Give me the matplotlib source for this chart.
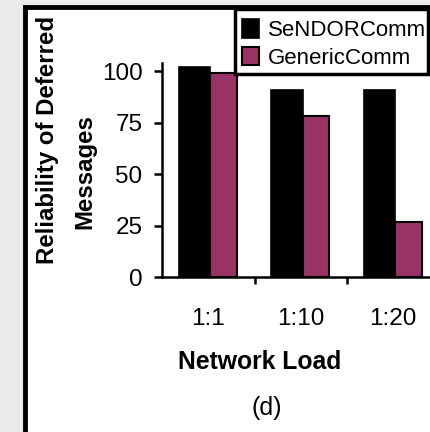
import matplotlib
matplotlib.use("Agg")
import matplotlib.pyplot as plt
from matplotlib.patches import Rectangle

categories = ["1:1", "1:10", "1:20"]
sendor = [102, 91, 91]
generic = [99, 78, 26.5]
series_names = ["SeNDORComm", "GenericComm"]
yticks = [0, 25, 50, 75, 100]

plt.rcParams['font.family'] = ['Liberation Sans', 'DejaVu Sans']

W, H = 430, 432
fig = plt.figure(figsize=(W / 100, H / 100), dpi=100)
fig.patch.set_facecolor('#ebebeb')

# white panel with black border (extends past right/bottom edges)
panel = Rectangle((25 / W, -0.1), 1.2, 1 - 7.5 / H + 0.1, transform=fig.transFigure,
                  facecolor='white', edgecolor='black', linewidth=3.5, zorder=-10)
fig.add_artist(panel)

ax_left = 162 / W
ax_bottom = 1 - 277 / H
ax_top = 1 - 63 / H
ax_width = (439.5 - 162) / W
ax = fig.add_axes([ax_left, ax_bottom, ax_width, ax_top - ax_bottom])
ax.set_facecolor('none')
ax.set_zorder(1)

x = list(range(len(categories)))
ax.bar([i - 0.32 for i in x], sendor, width=0.34, align='edge', color='black',
       edgecolor='black', linewidth=1.2, label=series_names[0], zorder=3)
ax.bar([i + 0.02 for i in x], generic, width=0.29, align='edge', color='#993366',
       edgecolor='black', linewidth=1.5, label=series_names[1], zorder=3)

ax.set_xlim(-0.5, len(categories) - 0.5)
ax.set_ylim(0, 104)
ax.set_yticks(yticks)
ax.set_yticklabels([str(v) for v in yticks], fontsize=17.5)
ax.tick_params(axis='y', direction='out', length=6, width=1.8, pad=8)

ax.set_xticks([i + 0.5 for i in x[:-1]])
ax.set_xticklabels([])
ax.tick_params(axis='x', which='major', direction='out', length=5, width=1.8)
ax.set_xticks(x, minor=True)
ax.set_xticklabels(categories, minor=True, fontsize=17.5)
ax.tick_params(axis='x', which='minor', length=0, pad=22)

for s in ['top', 'right']:
    ax.spines[s].set_visible(False)
for s in ['left', 'bottom']:
    ax.spines[s].set_linewidth(1.8)

fig.text(48 / W, 1 - 140 / H, "Reliability of Deferred", rotation=90, ha='center',
         va='center', fontsize=17.3, fontweight='bold')
fig.text(85 / W, 1 - 172 / H, "Messages", rotation=90, ha='center',
         va='center', fontsize=17.3, fontweight='bold')
fig.text(260 / W, 1 - 362 / H, "Network Load", ha='center', va='center',
         fontsize=17.8, fontweight='bold')
fig.text(267 / W, 1 - 408 / H, "(d)", ha='center', va='center', fontsize=18)

# legend frame drawn manually for exact placement
legbox = Rectangle((235 / W, 1 - 74 / H), (428 - 235) / W, (74 - 9) / H,
                   transform=fig.transFigure, facecolor='white', edgecolor='black',
                   linewidth=2.5, zorder=4)
fig.add_artist(legbox)
leg = fig.legend(loc='center left', bbox_to_anchor=(242 / W, 1 - 44 / H),
                 fontsize=16, frameon=False, borderpad=0,
                 handlelength=0.78, handleheight=0.9, handletextpad=0.4,
                 labelspacing=0.25, borderaxespad=0)
leg.set_zorder(5)

fig.savefig("out.png", dpi=100, facecolor=fig.get_facecolor())
